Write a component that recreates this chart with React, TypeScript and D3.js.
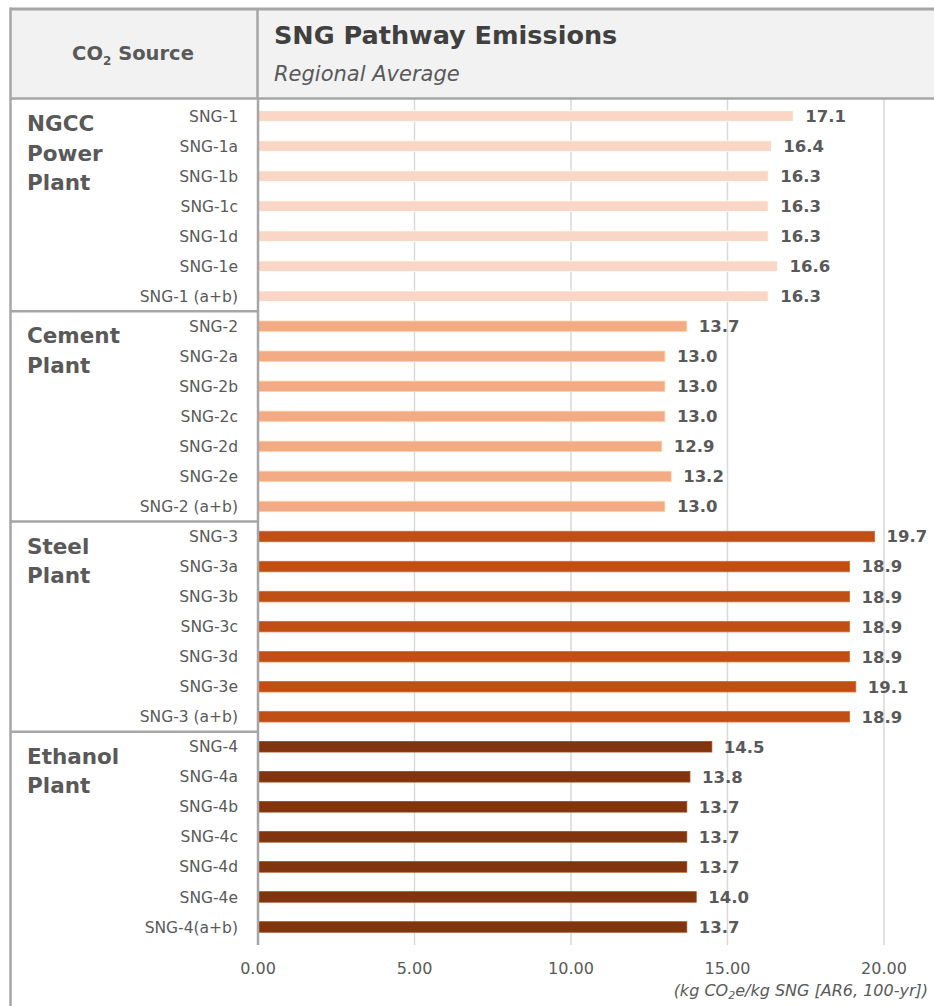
import React from "react";
import * as d3 from "d3";

const groups = ["NGCC Power Plant", "Cement Plant", "Steel Plant", "Ethanol Plant"];
const groupLines = [["NGCC", "Power", "Plant"], ["Cement", "Plant"], ["Steel", "Plant"], ["Ethanol", "Plant"]];
const groupColors = ["#F9D6C5", "#F2AB85", "#C04F15", "#80350E"];

const labelsNGCC = ["SNG-1", "SNG-1a", "SNG-1b", "SNG-1c", "SNG-1d", "SNG-1e", "SNG-1 (a+b)"];
const valuesNGCC = [17.1, 16.4, 16.3, 16.3, 16.3, 16.6, 16.3];
const labelsCement = ["SNG-2", "SNG-2a", "SNG-2b", "SNG-2c", "SNG-2d", "SNG-2e", "SNG-2 (a+b)"];
const valuesCement = [13.7, 13.0, 13.0, 13.0, 12.9, 13.2, 13.0];
const labelsSteel = ["SNG-3", "SNG-3a", "SNG-3b", "SNG-3c", "SNG-3d", "SNG-3e", "SNG-3 (a+b)"];
const valuesSteel = [19.7, 18.9, 18.9, 18.9, 18.9, 19.1, 18.9];
const labelsEthanol = ["SNG-4", "SNG-4a", "SNG-4b", "SNG-4c", "SNG-4d", "SNG-4e", "SNG-4(a+b)"];
const valuesEthanol = [14.5, 13.8, 13.7, 13.7, 13.7, 14.0, 13.7];

const xTicks = [0, 5, 10, 15, 20];

const W = 934;
const H = 1006;

type Row = { label: string; value: number; group: number };

const rows: Row[] = [
  ...labelsNGCC.map((l, i) => ({ label: l, value: valuesNGCC[i], group: 0 })),
  ...labelsCement.map((l, i) => ({ label: l, value: valuesCement[i], group: 1 })),
  ...labelsSteel.map((l, i) => ({ label: l, value: valuesSteel[i], group: 2 })),
  ...labelsEthanol.map((l, i) => ({ label: l, value: valuesEthanol[i], group: 3 })),
];

export default function App() {
  const x = d3.scaleLinear().domain([0, 20]).range([258, 884]);
  const y = d3
    .scalePoint<number>()
    .domain(rows.map((_, i) => i))
    .range([101, 942])
    .padding(0.5);
  const barH = 10.5;
  const border = "#A6A6A6";
  const textCol = "#595959";
  const plotTop = 99;
  const plotBottom = 945;
  const font = "'DejaVu Sans', sans-serif";

  const groupStarts = groups.map((_, g) => rows.findIndex((r) => r.group === g));
  const dividers = groupStarts.slice(1).map((i) => (y(i - 1)! + y(i)!) / 2);
  const groupTops = [plotTop, ...dividers];

  return (
    <svg
      width={W}
      height={H}
      style={{ position: "absolute", left: 0, top: 0, background: "#fff" }}
      fontFamily={font}
    >
      <rect x={10} y={9} width={W - 10} height={plotTop - 9} fill="#F2F2F2" />

      {xTicks.slice(1).map((t) => (
        <line key={t} x1={x(t)} x2={x(t)} y1={plotTop} y2={plotBottom} stroke="#D9D9D9" strokeWidth={1.5} />
      ))}

      {rows.map((r, i) => {
        const fill = groupColors[r.group];
        const stroke = d3.color(fill)!.brighter(0.6).formatHex();
        return (
          <g key={r.label}>
            <rect
              x={x(0)}
              y={y(i)! - barH / 2}
              width={x(r.value) - x(0)}
              height={barH}
              fill={fill}
              stroke={stroke}
              strokeWidth={0.8}
            />
            <text x={x(r.value) + 12} y={y(i)!} dy="0.36em" fontSize={16.5} fontWeight="bold" fill={textCol}>
              {r.value.toFixed(1)}
            </text>
            <text x={238} y={y(i)!} dy="0.36em" textAnchor="end" fontSize={15.5} fill={textCol}>
              {r.label}
            </text>
          </g>
        );
      })}

      {groupLines.map((lines, g) => (
        <text key={g} x={27} fontSize={21.5} fontWeight="bold" fill={textCol}>
          {lines.map((ln, k) => (
            <tspan key={k} x={27} y={groupTops[g] + 32 + k * 29.5}>
              {ln}
            </tspan>
          ))}
        </text>
      ))}

      {dividers.map((d, i) => (
        <line key={i} x1={10} x2={257} y1={d} y2={d} stroke={border} strokeWidth={2.5} />
      ))}

      <line x1={10} x2={W} y1={9} y2={9} stroke={border} strokeWidth={3} />
      <line x1={10} x2={W} y1={plotTop - 0.5} y2={plotTop - 0.5} stroke={border} strokeWidth={2.5} />
      <line x1={10.5} x2={10.5} y1={7.5} y2={H} stroke={border} strokeWidth={2.5} />
      <line x1={257.5} x2={257.5} y1={9} y2={plotTop} stroke={border} strokeWidth={2.5} />
      <line x1={x(0)} x2={x(0)} y1={plotTop} y2={plotBottom} stroke={border} strokeWidth={2.5} />

      <text x={133} y={53} dy="0.36em" textAnchor="middle" fontSize={19.5} fontWeight="bold" fill={textCol}>
        CO
        <tspan fontSize={12} dy="5">2</tspan>
        <tspan dy="-5"> Source</tspan>
      </text>
      <text x={274} y={44} fontSize={25.5} fontWeight="bold" fill="#404040">
        SNG Pathway Emissions
      </text>
      <text x={274} y={81} fontSize={21} fontStyle="italic" fill={textCol}>
        Regional Average
      </text>

      {xTicks.map((t) => (
        <text key={t} x={x(t)} y={968} dy="0.36em" textAnchor="middle" fontSize={16} fill={textCol}>
          {d3.format(".2f")(t)}
        </text>
      ))}
      <text x={928} y={996} textAnchor="end" fontSize={16} fontStyle="italic" fill={textCol}>
        (kg CO
        <tspan fontSize={11} dy="3">2</tspan>
        <tspan dy="-3">e/kg SNG [AR6, 100-yr])</tspan>
      </text>
    </svg>
  );
}
